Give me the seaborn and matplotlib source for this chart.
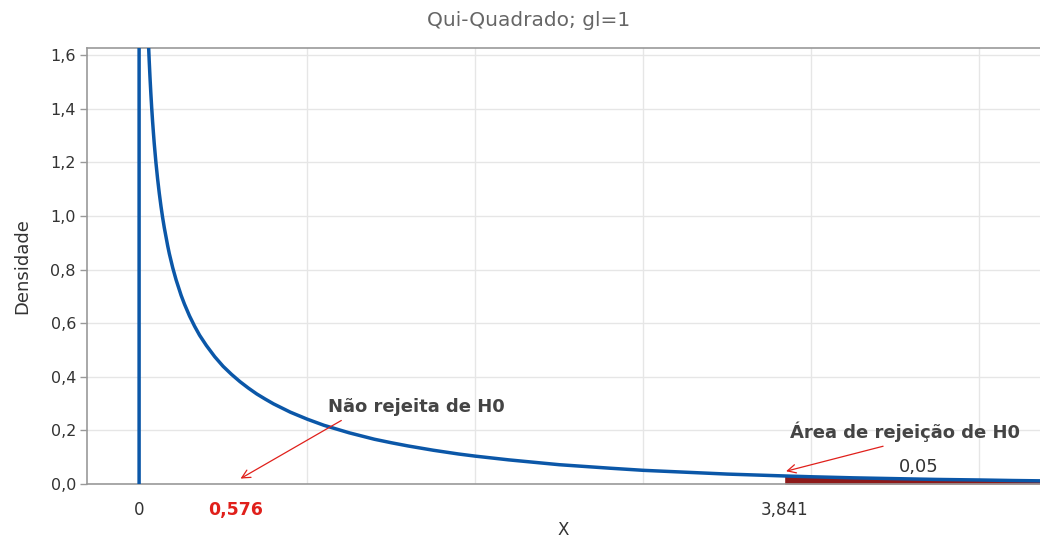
import matplotlib
matplotlib.use("Agg")
import matplotlib.pyplot as plt
import seaborn as sns

# curve (density of chi-square, 1 df)
x_vals = [0, 0, 0.055, 0.06, 0.065, 0.07, 0.075, 0.08, 0.085, 0.09, 0.1, 0.11,
          0.12, 0.13, 0.14, 0.15, 0.17, 0.18, 0.2, 0.22, 0.25, 0.27, 0.3, 0.33,
          0.36, 0.4, 0.45, 0.5, 0.55, 0.6, 0.65, 0.7, 0.75, 0.8, 0.9, 1.0, 1.1,
          1.25, 1.4, 1.5, 1.6, 1.75, 1.9, 2.0, 2.2, 2.5, 2.8, 3.0, 3.25, 3.5,
          3.841, 4.0, 4.25, 4.5, 4.75, 5.0, 5.2, 5.4]
dens = [0, 2.0, 1.655, 1.581, 1.515, 1.456, 1.403, 1.355, 1.312, 1.271, 1.200,
        1.139, 1.085, 1.037, 0.994, 0.956, 0.889, 0.859, 0.807, 0.762, 0.704,
        0.671, 0.627, 0.589, 0.555, 0.517, 0.475, 0.439, 0.409, 0.382, 0.358,
        0.336, 0.317, 0.299, 0.268, 0.242, 0.219, 0.191, 0.167, 0.154, 0.142,
        0.126, 0.112, 0.104, 0.090, 0.072, 0.059, 0.051, 0.044, 0.037, 0.030,
        0.027, 0.023, 0.020, 0.017, 0.015, 0.013, 0.0115]

x_obs = 0.576
x_crit = 3.841
alpha_label = "0,05"
tick_pos = [0, x_obs, x_crit]
tick_txt = ["0", "0,576", "3,841"]
y_ticks = [0.0, 0.2, 0.4, 0.6, 0.8, 1.0, 1.2, 1.4, 1.6]
y_txt = ["0,0", "0,2", "0,4", "0,6", "0,8", "1,0", "1,2", "1,4", "1,6"]

sns.set_style("white")
plt.rcParams['font.family'] = ['DejaVu Sans']

fig = plt.figure(figsize=(10.4, 5.38), dpi=100)
ax = fig.add_axes([87 / 1040, 54 / 538, 1 - 87 / 1040, (484 - 48) / 538])

# rejection region
tail_x = [x for x in x_vals if x >= x_crit]
tail_y = [d for x, d in zip(x_vals, dens) if x >= x_crit]
ax.fill_between(tail_x, 0, tail_y, color="#8e1a1a", lw=0, zorder=2)

sns.lineplot(x=x_vals, y=dens, estimator=None, sort=False, color="#0b57a8",
             lw=2.5, ax=ax, zorder=3)

ax.set_xlim(-0.31, 5.36)
ax.set_ylim(0, 1.627)

ax.set_yticks(y_ticks)
ax.set_yticklabels(y_txt, fontsize=11.5, color="#333333")
ax.set_xticks(tick_pos)
ax.set_xticklabels(tick_txt, fontsize=12, color="#333333")
lab = ax.get_xticklabels()[1]
lab.set_color("#e0201b")
lab.set_fontweight("bold")
lab.set_fontsize(12.5)
ax.set_xticks(range(1, 6), minor=True)
ax.tick_params(axis="x", which="both", length=0, pad=12)
ax.tick_params(axis="y", length=5, width=1, color="#999999", pad=3, left=True)

ax.grid(axis="y", color="#e6e6e6", lw=1)
ax.grid(axis="x", which="minor", color="#e6e6e6", lw=1)
ax.grid(axis="x", which="major", visible=False)
ax.set_axisbelow(True)

for side in ["left", "bottom", "top"]:
    ax.spines[side].set_color("#999999")
    ax.spines[side].set_linewidth(1.2)
ax.spines["right"].set_visible(False)

ax.set_xlabel("X", fontsize=12, color="#333333", labelpad=2)
ax.set_ylabel("Densidade", fontsize=13, color="#333333", labelpad=14)
fig.text(0.508, 1 - 21 / 538, "Qui-Quadrado; gl=1", ha="center", va="center",
         fontsize=14.5, color="#666666")

arrow = dict(arrowstyle="->", color="#e0201b", lw=0.9, mutation_scale=15)
ax.annotate("Não rejeita de H0", xy=(0.589, 0.015), xytext=(1.125, 0.288),
            ha="left", va="center", fontsize=13, fontweight="bold",
            color="#444444", arrowprops=dict(arrow, relpos=(0.12, 0.0)))
ax.annotate("Área de rejeição de H0", xy=(3.833, 0.045), xytext=(3.875, 0.194),
            ha="left", va="center", fontsize=13, fontweight="bold",
            color="#444444", arrowprops=dict(arrow, relpos=(0.47, 0.0)))
ax.text(4.637, 0.063, alpha_label, ha="center", va="center", fontsize=13,
        color="#333333")

fig.savefig("out.png", dpi=100)
